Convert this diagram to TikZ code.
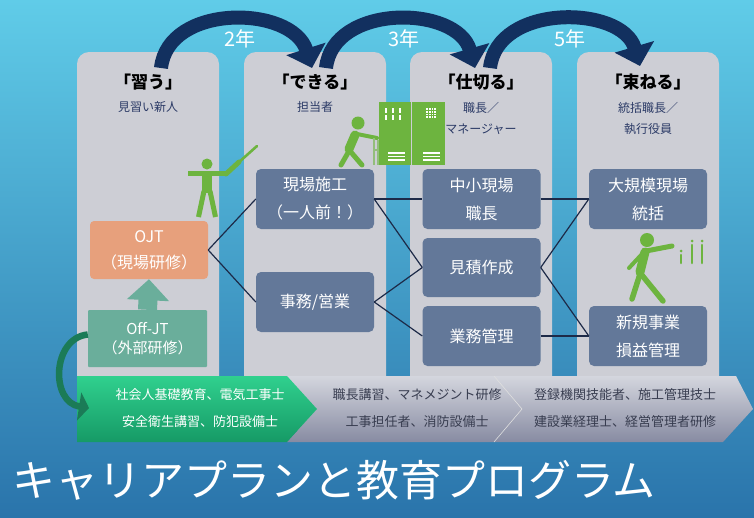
\documentclass[tikz,border=0pt]{standalone}
\usepackage{fontspec}
\newfontfamily\jp{Noto Sans CJK JP}
\usetikzlibrary{arrows.meta}

\definecolor{bgtop}{HTML}{60CCE8}
\definecolor{bgbot}{HTML}{2A74AB}
\definecolor{colgray}{HTML}{CDCED5}
\definecolor{boxblue}{HTML}{637899}
\definecolor{arcnavy}{HTML}{12305F}
\definecolor{linknavy}{HTML}{1D2A48}
\definecolor{ojtorange}{HTML}{E7A07C}
\definecolor{offteal}{HTML}{6AAE9B}
\definecolor{subnavy}{HTML}{2B3A66}
\definecolor{figgreen}{HTML}{6DB43F}
\definecolor{bargtop}{HTML}{30D08E}
\definecolor{bargbot}{HTML}{169A66}
\definecolor{bargraytop}{HTML}{D4D6DE}
\definecolor{bargraybot}{HTML}{878BA2}
\definecolor{bartext}{HTML}{383D50}
\definecolor{dkgreen}{HTML}{1B7B57}

\tikzset{
  column/.style={fill=colgray, rounded corners=12pt},
  rolebox/.style={fill=boxblue, rounded corners=5pt, text=white, align=center,
    minimum width=118pt, minimum height=60pt, inner sep=0pt,
    font=\jp\fontsize{16}{28}\selectfont},
  ojtbox/.style={fill=ojtorange, rounded corners=4pt, text=white, align=center,
    minimum width=118pt, minimum height=58pt, inner sep=0pt,
    font=\jp\fontsize{16}{26}\selectfont},
  offbox/.style={fill=offteal, rounded corners=1pt, text=white, align=center,
    minimum width=119pt, minimum height=57pt, inner sep=0pt,
    font=\jp\fontsize{15}{19}\selectfont},
  head/.style={text=black, font=\jp\bfseries\fontsize{17}{20}\selectfont},
  sub/.style={text=subnavy, align=center, font=\jp\fontsize{12}{21}\selectfont},
  link/.style={draw=linknavy, line width=1.2pt},
  bigarc/.style={draw=arcnavy, line width=14pt, -{Triangle[width=40pt,length=20pt]}},
  years/.style={text=white, font=\jp\fontsize{20}{22}\selectfont},
  bartxt/.style={font=\jp\fontsize{13}{27}\selectfont, align=center},
  fig/.style={draw=figgreen, line cap=round},
}

\begin{document}
\begin{tikzpicture}[x=1pt,y=-1pt]
\useasboundingbox (0,0) rectangle (754,517);
% background
\shade[top color=bgtop, bottom color=bgbot] (0,0) rectangle (754,517);

% the four stage columns
\fill[column] (77,52) rectangle (219,430);
\fill[column] (244,52) rectangle (386,430);
\fill[column] (410,52) rectangle (552,430);
\fill[column] (577,52) rectangle (719,430);

% stage headings
\node[head] (h1) at (148,82) {「習う」};
\node[head] (h2) at (315,82) {「できる」};
\node[head] (h3) at (481,82) {「仕切る」};
\node[head] (h4) at (648,82) {「束ねる」};
\node[sub] (s1) at (148,107) {見習い新人};
\node[sub] (s2) at (315,107) {担当者};
\node[sub, anchor=north] (s3) at (481,99) {職長／\\マネージャー};
\node[sub, anchor=north] (s4) at (648,99) {統括職長／\\執行役員};

% year arcs between the stages
\coordinate (a1s) at (161,68);  \coordinate (a1e) at (312,68);
\coordinate (a2s) at (326,68);  \coordinate (a2e) at (475,68);
\coordinate (a3s) at (490,68);  \coordinate (a3e) at (640,66);
\draw[bigarc] (a1s) .. controls (168,3) and (292,5) .. (a1e);
\draw[bigarc] (a2s) .. controls (333,3) and (457,5) .. (a2e);
\draw[bigarc] (a3s) .. controls (497,3) and (622,5) .. (a3e);
\node[years] (y2) at (240,39) {2年};
\node[years] (y3) at (404,39) {3年};
\node[years] (y5) at (570,39) {5年};

% training and role boxes
\node[ojtbox] (ojt) at (149,250) {OJT\\（現場研修）};
\node[offbox] (off) at (147.5,338.5) {Off-JT\\（外部研修）};
\draw[draw=offteal, line width=19pt, -{Triangle[width=41pt,length=21pt]}]
  (off.north) -- (ojt.south);

\node[rolebox] (genba) at (315,199) {現場施工\\（一人前！）};
\node[rolebox] (jimu) at (315,302) {事務/営業};
\node[rolebox] (chusho) at (481.5,199) {中小現場\\職長};
\node[rolebox, minimum height=59pt] (mitsu) at (481.5,267.5) {見積作成};
\node[rolebox] (gyomu) at (481.5,336) {業務管理};
\node[rolebox] (daikibo) at (648,199) {大規模現場\\統括};
\node[rolebox] (shinki) at (648,336) {新規事業\\損益管理};

% career paths
\draw[link] (ojt.east) -- (genba.west);
\draw[link] (ojt.east) -- (jimu.west);
\draw[link] (genba.east) -- (chusho.west);
\draw[link] (genba.east) -- (mitsu.west);
\draw[link] (jimu.east) -- (mitsu.west);
\draw[link] (jimu.east) -- (gyomu.west);
\draw[link] (chusho.east) -- (daikibo.west);
\draw[link] (mitsu.east) -- (daikibo.west);
\draw[link] (mitsu.east) -- (shinki.west);
\draw[link] (gyomu.east) -- (shinki.west);

% figure with a stick
\fill[figgreen] (207,164) circle (5.5pt);
\fill[figgreen] (188,170.5) rectangle (227,176);
\fill[figgreen] (202,175) rectangle (212,193);
\draw[fig, line width=5pt, line cap=butt] (204,191) -- (198.5,217);
\draw[fig, line width=5pt, line cap=butt] (210,191) -- (215.5,217);
\draw[fig, line width=2.6pt] (238,163) -- (257,146);
\draw[fig, line width=5pt] (226,174) -- (239,162);

% figure pushing a cart
\fill[figgreen] (358,123) circle (6.5pt);
\draw[fig, line width=9pt] (355,135) -- (349,149);
\draw[fig, line width=4pt] (357,134) -- (377,138);
\draw[fig, line width=5pt] (349,151) -- (341,165);
\draw[fig, line width=5pt] (350,151) -- (362,165);
\draw[draw=figgreen!60!colgray, line width=1.2pt] (374,138) -- (374,165)
  (378,140) -- (378,165) (374,150) -- (378,150);

% lockers
\fill[figgreen] (379,102) rectangle (411,165);
\fill[figgreen] (412,102) rectangle (445,165);
\foreach \x in {386,393,400}{
  \fill[white] (\x-1.3,108) rectangle (\x+1.3,112.5);
  \fill[white] (\x-1.3,115) rectangle (\x+1.3,119.5);
}
\fill[white] (426,108) rectangle (436,118);
\foreach \x in {428.5,431,433.5}{ \draw[figgreen, line width=0.6pt] (\x,108) -- (\x,118); }
\foreach \y in {110.5,113,115.5}{ \draw[figgreen, line width=0.6pt] (426,\y) -- (436,\y); }
\foreach \y in {153,156.5,160}{
  \draw[white, line width=1.3pt] (388,\y) -- (405,\y);
  \draw[white, line width=1.3pt] (423,\y) -- (440,\y);
}

% walking figure
\fill[figgreen] (647,240) circle (7pt);
\draw[fig, line width=9pt] (645,252) -- (640,272);
\draw[fig, line width=5pt] (646,251) -- (672,246);
\draw[fig, line width=4pt] (642,254) -- (629,268);
\draw[fig, line width=5.5pt] (640,274) -- (632,299);
\draw[fig, line width=5.5pt] (641,274) -- (663,301);
\draw[fig, line width=2.6pt] (681,255) -- (681,263) (692,245) -- (692,263) (702,245) -- (702,263);
\fill[figgreen] (681,251) circle (1.5pt) (692,241) circle (1.5pt) (702,241) circle (1.5pt);

% education programme band
\shade[top color=bargraytop, bottom color=bargraybot]
  (287,376) -- (494,376) -- (522,409) -- (494,442) -- (287,442) -- (317,409) -- cycle;
\shade[top color=bargraytop, bottom color=bargraybot]
  (494,376) -- (736,376) -- (753,409) -- (723,442) -- (494,442) -- (522,409) -- cycle;
\draw[white!75!gray, line width=0.6pt] (494,376) -- (522,409) -- (494,442);
\shade[top color=bargtop, bottom color=bargbot]
  (77,376) -- (287,376) -- (317,409) -- (287,442) -- (77,442) -- cycle;

\node[bartxt, text=white] (p1) at (200,408.5) {社会人基礎教育、電気工事士\\安全衛生講習、防犯設備士};
\node[bartxt, text=bartext] (p2) at (417,408.5) {職長講習、マネメジント研修\\工事担任者、消防設備士};
\node[bartxt, text=bartext] (p3) at (625,408.5) {登録機関技能者、施工管理技士\\建設業経理士、経営管理者研修};

% from external training down to the band
\coordinate (barin) at (89,408);
\draw[draw=dkgreen, line width=6.5pt, -{Triangle[width=28pt,length=10pt]}]
  ([yshift=4pt]off.west) .. controls (52,338) and (50,402) .. (barin);

% title
\node[text=white, font=\jp\fontsize{43}{50}\selectfont] (title) at (334,480)
  {キャリアプランと教育プログラム};
\end{tikzpicture}
\end{document}
